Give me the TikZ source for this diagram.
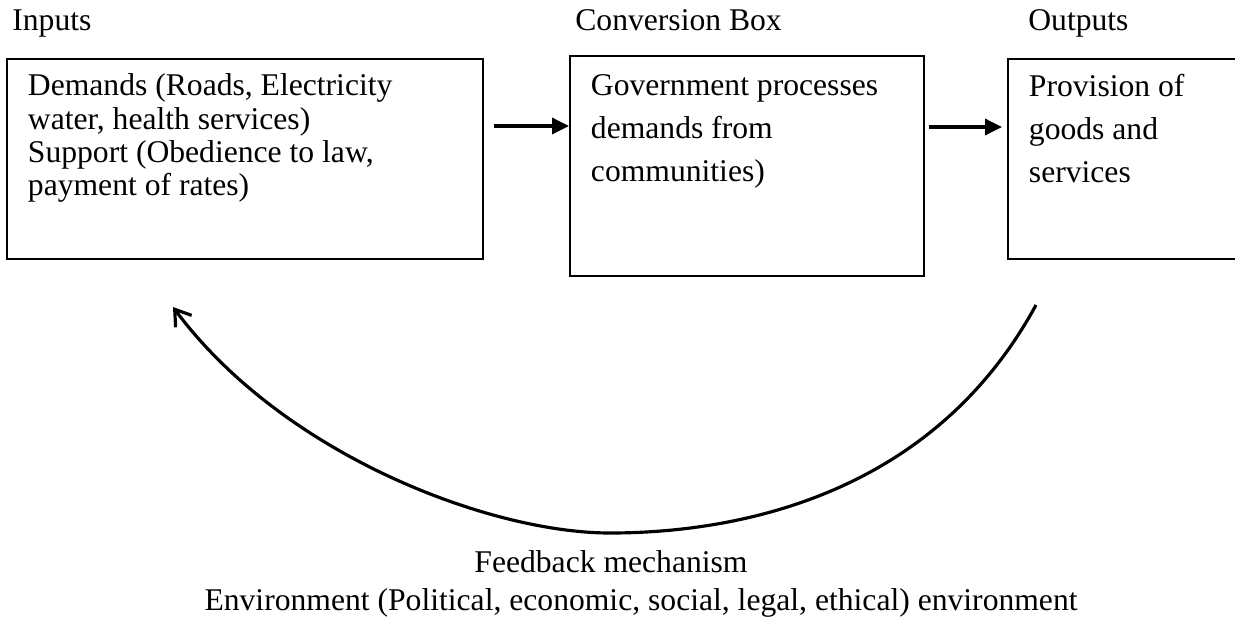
\documentclass[tikz,border=0pt]{standalone}
\usepackage{fontspec}
\setmainfont{Liberation Serif}
\usetikzlibrary{arrows.meta,calc}

\begin{document}
\begin{tikzpicture}[x=0.02cm, y=-0.02cm,
  every node/.style={font=\fontsize{18}{18.9}\selectfont},
  procbox/.style={draw, line width=1.1pt, anchor=north west, inner xsep=0.42cm, inner ysep=0.3cm},
  widelines/.style={font=\fontsize{18}{24.5}\selectfont},
  lbl/.style={anchor=base west, inner sep=0pt},
  flow/.style={-{Triangle[length=0.34cm,width=0.32cm]}, line width=2pt},
  feedback/.style={-{Straight Barb[length=0.3cm,width=0.4cm]}, line width=1.8pt}]
  \clip (0,0) rectangle (1235,620);
  % the three stages
  \node[procbox] (inputs) at (6,58) {\parbox[t][3.4cm][t]{8.68cm}{\raggedright Demands (Roads, Electricity\\ water, health services)\\ Support (Obedience to law,\\ payment of rates)}};
  \node[procbox, widelines, inner ysep=0.38cm] (conv) at (569,55) {\parbox[t][3.64cm][t]{6.24cm}{\raggedright Government processes\\ demands from\\ communities)}};
  \node[procbox, widelines] (outputs) at (1007,58) {\parbox[t][3.4cm][t]{4.4cm}{\raggedright Provision of\\ goods and\\ services}};
  \node[lbl] (inlabel) at (12,30) {Inputs};
  \node[lbl] (convlabel) at (575,30) {Conversion Box};
  \node[lbl] (outlabel) at (1028,30) {Outputs};
  \draw[flow] ($(inputs.north east)+(10,68)$) -- ($(conv.north west)+(0,71)$);
  \draw[flow] ($(conv.north east)+(4,72)$) -- ($(outputs.north west)+(-5,69)$);
  % feedback loop
  \coordinate (fbstart) at (1036,305);
  \coordinate (fblow) at (610,533);
  \coordinate (fbend) at (173,307);
  \draw[feedback] (fbstart) .. controls (930,500) and (730,533) .. (fblow) .. controls (490,533) and (283,455) .. (fbend);
  \node[anchor=base, inner sep=0pt] (fbtext) at (611,572) {Feedback mechanism};
  \node[anchor=base, inner sep=0pt] (envtext) at (641,610) {Environment (Political, economic, social, legal, ethical) environment};
\end{tikzpicture}
\end{document}
